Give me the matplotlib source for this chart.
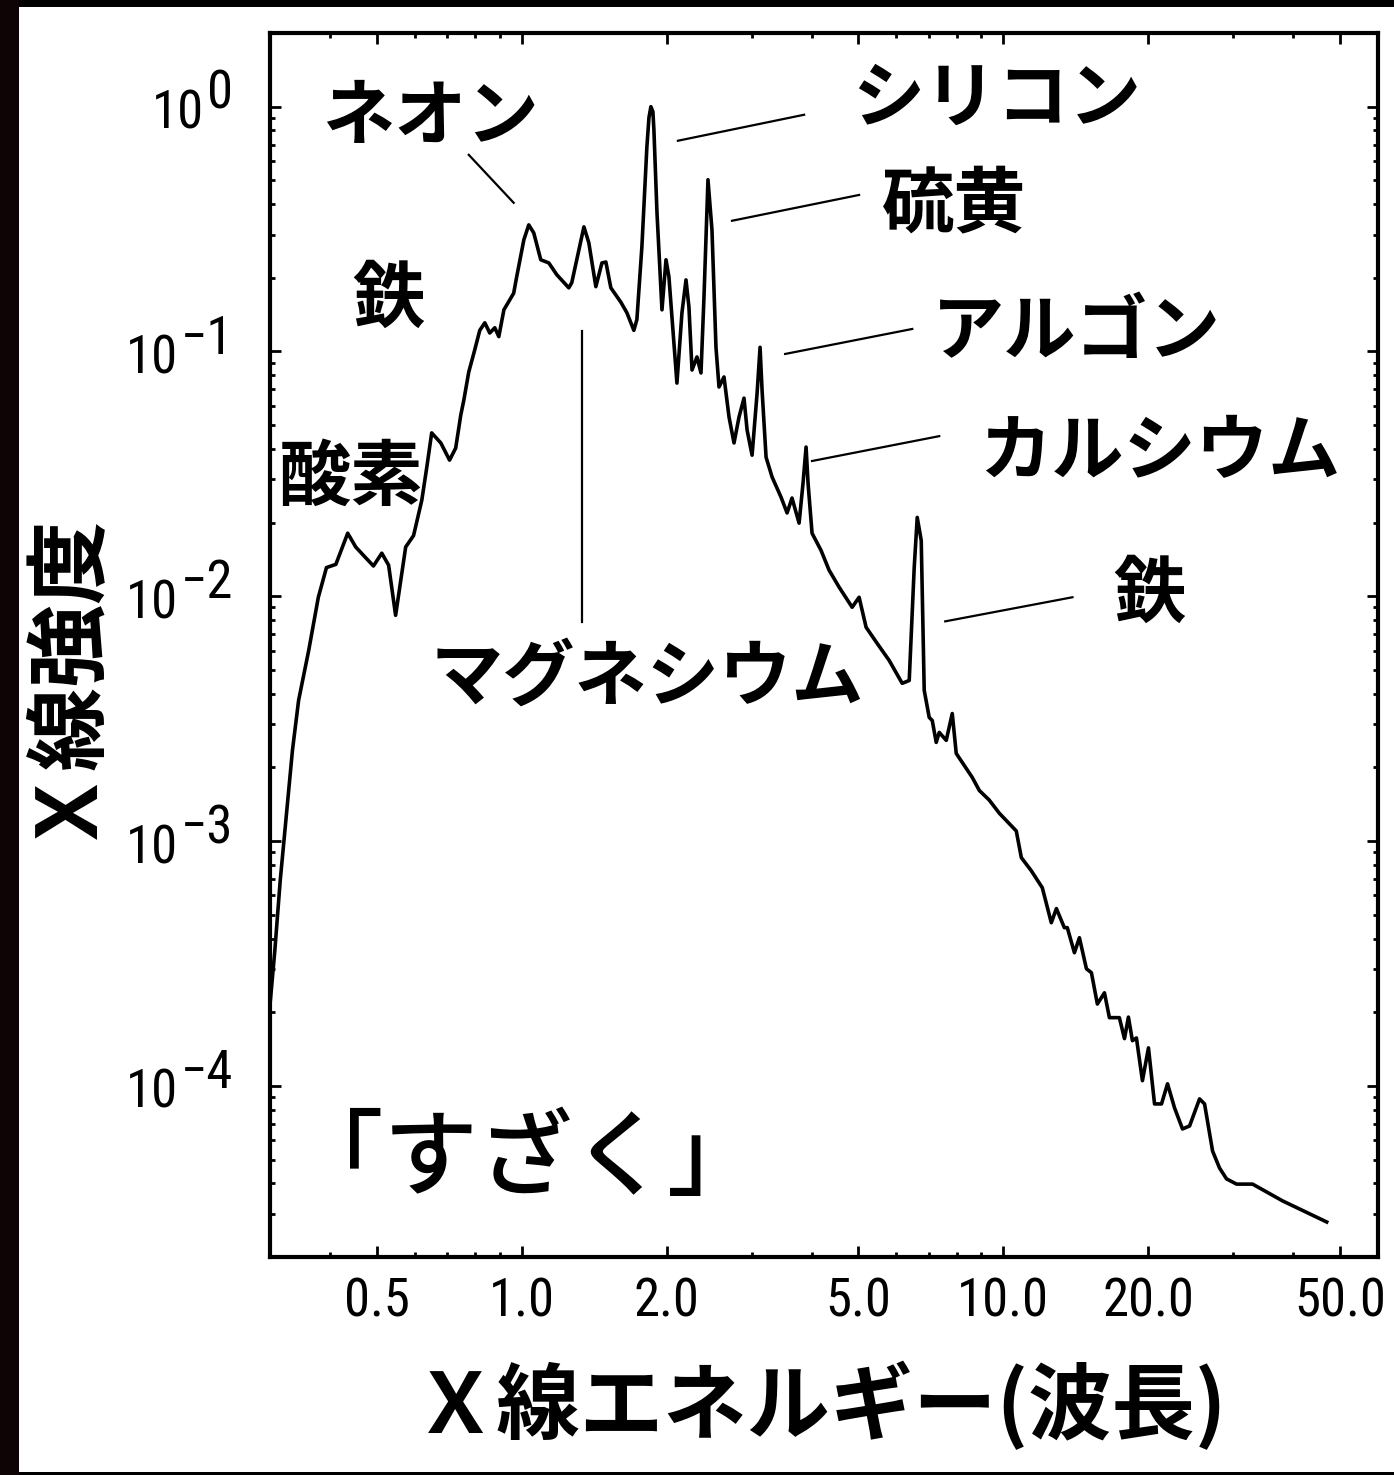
import numpy as np
import matplotlib
matplotlib.use("Agg")
import matplotlib.pyplot as plt
from matplotlib import font_manager
from matplotlib.font_manager import FontProperties
from matplotlib.patches import Rectangle
from matplotlib.ticker import LogLocator, NullFormatter

plt.rcParams['font.family'] = ['Noto Sans CJK JP', 'DejaVu Sans']

# Suzaku spectrum: photon energy (keV) vs normalised intensity
energy_kev = [
    0.298, 0.307, 0.315, 0.325, 0.334, 0.344, 0.361, 0.378, 0.393, 0.411,
    0.435, 0.452, 0.469, 0.492, 0.512, 0.529, 0.547, 0.574, 0.596, 0.620,
    0.635, 0.650, 0.679, 0.708, 0.729, 0.747, 0.758, 0.776, 0.798, 0.818,
    0.838, 0.858, 0.879, 0.896, 0.918, 0.962, 0.976, 1.010, 1.034, 1.059,
    1.095, 1.138, 1.182, 1.252, 1.270, 1.314, 1.346, 1.378, 1.425, 1.467,
    1.495, 1.531, 1.606, 1.653, 1.709, 1.734, 1.776, 1.802, 1.819, 1.837,
    1.854, 1.872, 1.881, 1.909, 1.955, 1.993, 2.021, 2.100, 2.151, 2.193,
    2.224, 2.257, 2.311, 2.356, 2.390, 2.436, 2.483, 2.531, 2.568, 2.630,
    2.694, 2.759, 2.826, 2.894, 2.937, 3.008, 3.081, 3.125, 3.155, 3.216,
    3.310, 3.455, 3.556, 3.641, 3.766, 3.838, 3.894, 3.931, 4.007, 4.183,
    4.346, 4.560, 4.854, 5.018, 5.189, 5.471, 5.794, 6.166, 6.377, 6.531,
    6.626, 6.754, 6.851, 7.017, 7.119, 7.256, 7.361, 7.612, 7.834, 7.985,
    8.621, 8.916, 9.352, 9.81, 10.64, 10.90, 11.43, 12.05, 12.58, 12.89,
    13.39, 13.58, 14.05, 14.39, 14.88, 15.24, 15.68, 16.22, 16.61, 17.42,
    17.85, 18.19, 18.54, 18.90, 19.45, 20.02, 20.61, 21.31, 21.93, 22.68,
    23.56, 24.37, 25.56, 26.18, 27.20, 28.12, 29.08, 30.51, 32.94, 38.02,
    46.95,
]
intensity = [
    1.85e-4, 3.57e-4, 6.89e-4, 1.33e-3, 2.35e-3, 3.76e-3, 6.01e-3, 9.91e-3, 1.31e-2, 1.35e-2,
    1.81e-2, 1.59e-2, 1.47e-2, 1.33e-2, 1.50e-2, 1.34e-2, 8.36e-3, 1.59e-2, 1.77e-2, 2.47e-2,
    3.37e-2, 4.65e-2, 4.23e-2, 3.60e-2, 4.03e-2, 5.50e-2, 6.33e-2, 8.24e-2, 0.101, 0.122,
    0.131, 0.119, 0.125, 0.115, 0.148, 0.173, 0.202, 0.286, 0.329, 0.305,
    0.237, 0.230, 0.206, 0.182, 0.191, 0.260, 0.323, 0.278, 0.184, 0.230,
    0.232, 0.182, 0.159, 0.144, 0.122, 0.135, 0.268, 0.480, 0.686, 0.902,
    1.0, 0.954, 0.805, 0.368, 0.148, 0.237, 0.202, 7.43e-2, 0.144, 0.196,
    0.152, 8.40e-2, 9.50e-2, 8.17e-2, 0.167, 0.503, 0.314, 0.104, 7.16e-2, 7.87e-2,
    5.40e-2, 4.23e-2, 5.40e-2, 6.45e-2, 4.78e-2, 3.77e-2, 6.76e-2, 0.104, 6.96e-2, 3.70e-2,
    3.07e-2, 2.54e-2, 2.19e-2, 2.52e-2, 1.99e-2, 2.90e-2, 4.07e-2, 2.90e-2, 1.81e-2, 1.54e-2,
    1.28e-2, 1.09e-2, 9.02e-3, 9.91e-3, 7.47e-3, 6.42e-3, 5.47e-3, 4.41e-3, 4.53e-3, 1.31e-2,
    2.10e-2, 1.69e-2, 4.13e-3, 3.20e-3, 3.11e-3, 2.53e-3, 2.78e-3, 2.58e-3, 3.32e-3, 2.28e-3,
    1.82e-3, 1.61e-3, 1.47e-3, 1.30e-3, 1.10e-3, 8.56e-4, 7.57e-4, 6.45e-4, 4.64e-4, 5.30e-4,
    4.43e-4, 4.43e-4, 3.50e-4, 4.03e-4, 3.01e-4, 2.90e-4, 2.16e-4, 2.40e-4, 1.90e-4, 1.90e-4,
    1.56e-4, 1.91e-4, 1.53e-4, 1.57e-4, 1.05e-4, 1.43e-4, 8.44e-5, 8.44e-5, 1.02e-4, 8.13e-5,
    6.67e-5, 6.86e-5, 8.85e-5, 8.44e-5, 5.42e-5, 4.62e-5, 4.17e-5, 3.97e-5, 3.97e-5, 3.39e-5,
    2.78e-5,
]

x_ticks = [0.5, 1.0, 2.0, 5.0, 10.0, 20.0, 50.0]
x_tick_labels = ["0.5", "1.0", "2.0", "5.0", "10.0", "20.0", "50.0"]
y_decades = [1e0, 1e-1, 1e-2, 1e-3, 1e-4]
y_exponents = ["0", "\u22121", "\u22122", "\u22123", "\u22124"]

# element names, placed at (energy, intensity) of the text centre
element_names = ["ネオン", "シリコン", "硫黄", "アルゴン", "カルシウム",
                 "鉄", "鉄", "酸素", "マグネシウム"]
name_energy = [0.647, 9.67, 7.91, 14.18, 21.10, 20.12, 0.529, 0.441, 1.820]
name_intensity = [0.902, 1.068, 0.397, 0.119, 3.84e-2, 1.02e-2, 0.1625, 3.04e-2, 4.62e-3]

# leader lines from the emission lines to their names
leader_energy = [(0.776, 0.962), (2.110, 3.858), (2.733, 5.018), (3.523, 6.47),
                 (4.007, 7.361), (7.575, 13.92), (1.333, 1.333)]
leader_intensity = [(0.636, 0.405), (0.726, 0.927), (0.342, 0.436), (9.77e-2, 0.1236),
                    (3.57e-2, 4.51e-2), (7.90e-3, 9.91e-3), (0.121, 7.83e-3)]

satellite = "「すざく」"
satellite_pos = (1.019, 4.93e-5)


def narrow_number_font():
    # look for the narrowest sans face available for the axis numbers
    prefs = ['NotoSans-ExtraCondensedMedium.', 'NotoSans-ExtraCondensed.',
             'LiberationSansNarrow-Regular', 'NotoSans-Condensed.',
             'RobotoCondensed-Regular', 'DejaVuSansCondensed.',
             'OpenSans_Condensed-Regular', 'OpenSansCondensed']
    files = [f.fname for f in font_manager.fontManager.ttflist]
    for key in prefs:
        for fn in files:
            if key in fn:
                return FontProperties(fname=fn, size=38)
    for fn in files:
        base = fn.split('/')[-1]
        if ('Narrow' in base or 'Condensed' in base) and 'Bold' not in base \
                and 'Italic' not in base and 'Oblique' not in base and 'Light' not in base:
            return FontProperties(fname=fn, size=38)
    return FontProperties(family='Liberation Sans', size=34)


num_fp = narrow_number_font()

fig = plt.figure(figsize=(13.94, 14.75), dpi=100)
fig.patch.set_facecolor('black')
fig.add_artist(Rectangle((0, 0), 19 / 1394, 1, transform=fig.transFigure,
                         facecolor='#0e0305', edgecolor='none', zorder=-20))
fig.add_artist(Rectangle((19 / 1394, 3 / 1475), 1 - 19 / 1394, 1465 / 1475,
                         transform=fig.transFigure, facecolor='white',
                         edgecolor='none', zorder=-10))

ax = fig.add_axes([270 / 1394, 218 / 1475, 1108 / 1394, 1224 / 1475])
ax.plot(energy_kev, intensity, color='black', lw=2.6, solid_joinstyle='round')

ax.set_xscale('log')
ax.set_yscale('log')
ax.set_xlim(0.3, 60)
ax.set_ylim(2e-5, 2.0)

ax.set_xticks(x_ticks, labels=x_tick_labels)
ax.xaxis.set_minor_locator(LogLocator(base=10, subs=np.arange(2, 10), numticks=20))
ax.xaxis.set_minor_formatter(NullFormatter())
ax.set_yticks(y_decades)
ax.yaxis.set_minor_locator(LogLocator(base=10, subs=np.arange(2, 10), numticks=20))
ax.yaxis.set_minor_formatter(NullFormatter())

ax.tick_params(which='both', direction='in', top=True, right=True, width=2, color='black')
ax.tick_params(which='major', length=8)
ax.tick_params(which='minor', length=3.5)
ax.tick_params(axis='y', which='both', labelleft=False)
ax.tick_params(axis='x', pad=14)
for lab in ax.get_xticklabels():
    lab.set_fontproperties(num_fp)
for sp in ax.spines.values():
    sp.set_linewidth(3)

# y tick labels: "10" with a full size exponent
for v, e in zip(y_decades, y_exponents):
    ex = ax.annotate(e, xy=(0, v), xycoords=ax.get_yaxis_transform(),
                     xytext=(-26.6, -1.5), textcoords='offset points',
                     ha='right', va='baseline', fontproperties=num_fp)
    ax.annotate("10", xy=(0, 0), xycoords=ex, xytext=(-2, -14.4),
                textcoords='offset points', ha='right', va='bottom',
                fontproperties=num_fp)

for name, e, i in zip(element_names, name_energy, name_intensity):
    ax.text(e, i, name, ha='center', va='center', fontsize=52, fontweight='bold')

for xs, ys in zip(leader_energy, leader_intensity):
    ax.plot(xs, ys, color='black', lw=1.6)

ax.text(*satellite_pos, satellite, ha='center', va='center', fontsize=68, fontweight='medium')

ax.set_ylabel("Ｘ線強度", fontsize=60, fontweight='bold')
ax.yaxis.set_label_coords(-0.152, 0.478)
ax.set_xlabel("Ｘ線エネルギー(波長)", fontsize=60, fontweight='bold')
ax.xaxis.set_label_coords(0.497, -0.086)

fig.savefig("out.png", dpi=100, facecolor=fig.get_facecolor())
